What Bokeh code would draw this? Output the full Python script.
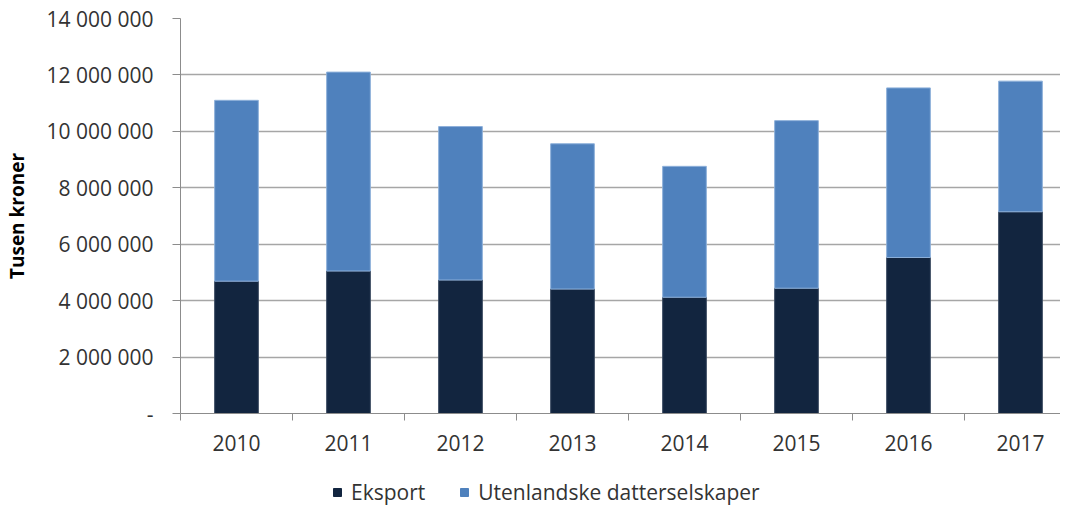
from bokeh.plotting import figure
from bokeh.models import Range1d, FixedTicker, Legend, LegendItem, ColumnDataSource
from bokeh.layouts import column
from bokeh.embed import file_html
from bokeh.resources import INLINE

years = ["2010", "2011", "2012", "2013", "2014", "2015", "2016", "2017"]
eksport = [4690000, 5050000, 4730000, 4410000, 4120000, 4440000, 5530000, 7150000]
datterselskaper = [6410000, 7050000, 5440000, 5150000, 4640000, 5940000, 6010000, 4630000]
y_ticks = [0, 2000000, 4000000, 6000000, 8000000, 10000000, 12000000, 14000000]
y_labels = ["-", "2 000 000", "4 000 000", "6 000 000", "8 000 000", "10 000 000", "12 000 000", "14 000 000"]
series_names = ["Eksport", "Utenlandske datterselskaper"]

FONT = "Open Sans"
DARK = "#12253F"
BLUE = "#4F81BD"
FS = "21px"

xs = [i + 0.5 for i in range(len(years))]
src = ColumnDataSource(dict(x=xs, eksport=eksport, datterselskaper=datterselskaper))

p = figure(frame_width=880, frame_height=395, output_backend="svg", toolbar_location=None,
           x_range=Range1d(0, 880 / 112), y_range=Range1d(0, 14000000),
           min_border_left=178, min_border_right=0, min_border_top=18, min_border_bottom=50)
p.outline_line_color = None
p.xgrid.grid_line_color = None
p.ygrid.grid_line_color = "#A6A6A6"
p.ygrid.grid_line_width = 1.5
p.ygrid.ticker = FixedTicker(ticks=y_ticks)

r = p.vbar_stack(["eksport", "datterselskaper"], x="x", width=0.39, source=src,
                 color=[DARK, BLUE], line_color=["#3a4a60", "#8DB0DA"], line_width=1)

# y axis
ya = p.yaxis[0]
ya.ticker = FixedTicker(ticks=y_ticks)
ya.major_label_overrides = {t: l for t, l in zip(y_ticks, y_labels)}
ya.axis_line_color = "#8C8C8C"
ya.major_tick_line_color = "#8C8C8C"
ya.major_tick_out = 8
ya.major_tick_in = 0
ya.minor_tick_out = 0
ya.minor_tick_in = 0
ya.major_label_standoff = 19
ya.major_label_text_font = FONT
ya.major_label_text_font_size = FS
ya.major_label_text_color = "#333333"
ya.axis_label = "Tusen kroner"
ya.axis_label_text_font = FONT
ya.axis_label_text_font_size = "19px"
ya.axis_label_text_font_style = "bold"
ya.axis_label_text_color = "#000000"
ya.axis_label_standoff = 14

# x axis
xa = p.xaxis[0]
xa.ticker = FixedTicker(ticks=xs, minor_ticks=list(range(len(years) + 1)))
xa.major_label_overrides = {x: y for x, y in zip(xs, years)}
xa.axis_line_color = "#8C8C8C"
xa.major_tick_out = 0
xa.major_tick_in = 0
xa.minor_tick_line_color = "#8C8C8C"
xa.minor_tick_out = 7
xa.minor_tick_in = 0
xa.major_label_standoff = 14
xa.major_label_text_font = FONT
xa.major_label_text_font_size = FS
xa.major_label_text_color = "#333333"

# legend strip below the chart
lg = figure(width=1058, height=43, output_backend="svg", toolbar_location=None,
            x_range=Range1d(0, 1), y_range=Range1d(0, 1),
            min_border_left=0, min_border_right=0, min_border_top=0, min_border_bottom=0)
lg.outline_line_color = None
lg.axis.visible = False
lg.grid.visible = False
d1 = lg.vbar(x=[5], top=[5], width=0.1, color=DARK)
d2 = lg.vbar(x=[5], top=[5], width=0.1, color=BLUE)
legend = Legend(items=[LegendItem(label=series_names[0], renderers=[d1]),
                       LegendItem(label=series_names[1], renderers=[d2])],
                orientation="horizontal", location=(152, 0),
                label_text_font=FONT, label_text_font_size=FS, label_text_color="#333333",
                glyph_width=10, glyph_height=10, label_standoff=9, spacing=34,
                padding=0, margin=0, border_line_color=None, background_fill_alpha=0)
lg.add_layout(legend, "center")

open("out.html", "w").write(file_html(column(p, lg, spacing=0), INLINE))
